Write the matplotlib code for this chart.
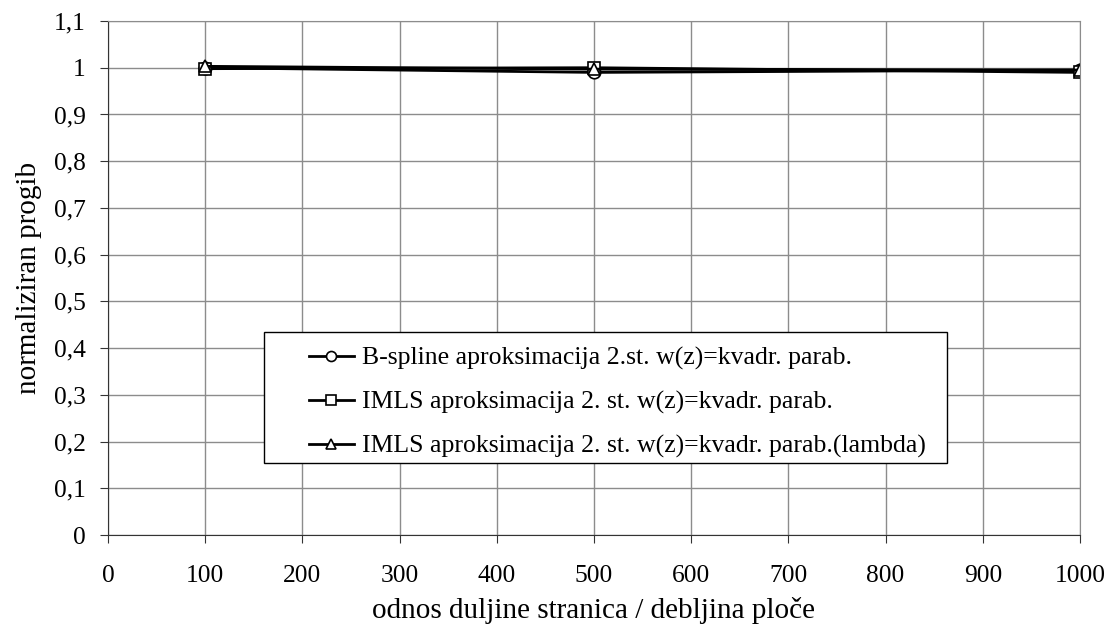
import matplotlib.pyplot as plt
import matplotlib.ticker as ticker
from matplotlib.patches import Rectangle

plt.rcParams['font.family'] = ['Liberation Serif', 'DejaVu Serif']

x = [100, 500, 1000]
bspline = [1.0, 0.99, 0.995]
imls = [0.998, 1.0, 0.99]
imls_lambda = [1.003, 0.997, 0.995]
labels = ['B-spline aproksimacija 2.st. w(z)=kvadr. parab.',
          'IMLS aproksimacija 2. st. w(z)=kvadr. parab.',
          'IMLS aproksimacija 2. st. w(z)=kvadr. parab.(lambda)']

fig = plt.figure(figsize=(11.1, 6.35), dpi=100)
# axes box in pixels: left 108, right 1080, top 21, bottom 535
ax = fig.add_axes([108/1110, 100/635, 972/1110, 514/635])

style = dict(color='black', linewidth=2, markersize=9, markerfacecolor='white', markeredgewidth=1.2)
ax.plot(x, bspline, marker='o', label=labels[0], **style)
ax.plot(x, imls, marker='s', label=labels[1], **style)
ax.plot(x, imls_lambda, marker='^', label=labels[2], **style)

ax.set_xlim(0, 1000)
ax.set_ylim(0, 1.1)
ax.set_xticks(range(0, 1001, 100))
ax.set_yticks([i/10 for i in range(12)])
ax.yaxis.set_major_formatter(ticker.FuncFormatter(lambda v, p: ('%g' % round(v, 1)).replace('.', ',')))
ax.grid(True, color='#8c8c8c', linewidth=1)
ax.set_axisbelow(True)
for s in ['top', 'right']:
    ax.spines[s].set_color('#8c8c8c')
for s in ['left', 'bottom']:
    ax.spines[s].set_color('#333333')
ax.tick_params(labelsize=18.4, direction='out', length=6, color='#333333')
ax.tick_params(axis='x', pad=15.5)
ax.tick_params(axis='y', pad=10)

ax.set_xlabel('odnos duljine stranica / debljina ploče', fontsize=21, labelpad=7.5)
ax.set_ylabel('normaliziran progib', fontsize=21, labelpad=8.5)

# legend frame drawn separately (left padding wider than right)
frame = Rectangle((0.16, 0.14), 0.703, 0.255, transform=ax.transAxes,
                  facecolor='white', edgecolor='black', linewidth=1, zorder=4)
ax.add_patch(frame)
leg = ax.legend(loc='upper left', bbox_to_anchor=(0.2068, 0.366), fontsize=18.5,
                frameon=False, labelspacing=0.8, handlelength=1.75,
                borderpad=0, borderaxespad=0, handletextpad=0.3, markerscale=0.8)
leg.set_zorder(5)

fig.savefig('out.png', dpi=100)
